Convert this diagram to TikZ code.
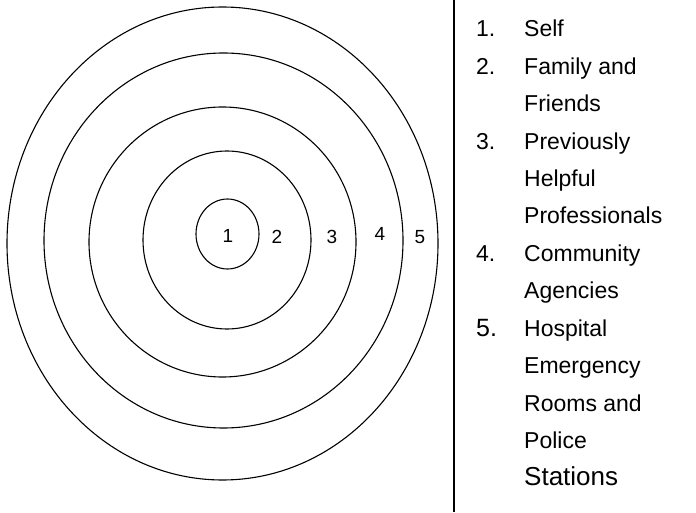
\documentclass[tikz,border=0pt]{standalone}
\usepackage{fontspec}
\setmainfont{Liberation Sans}
\usetikzlibrary{positioning}

\begin{document}
\begin{tikzpicture}[x=1pt,y=1pt,
  ring/.style={draw=black,line width=1.1pt},
  divider/.style={draw=black,line width=1.8pt},
  zone/.style={inner sep=0pt,font=\fontsize{19}{19}\selectfont},
  num/.style={anchor=base west,inner sep=0pt,font=\fontsize{23}{23}\selectfont},
  item/.style={anchor=base west,inner sep=0pt,font=\fontsize{23}{23}\selectfont}
]
\useasboundingbox (0,0) rectangle (696,512);
% target rings
\draw[ring] (222.5,268.5) ellipse [x radius=215.5pt,y radius=236.5pt];
\draw[ring] (223.5,271.5) ellipse [x radius=179.5pt,y radius=187.5pt];
\draw[ring] (222.5,270) ellipse [x radius=133.5pt,y radius=135pt];
\draw[ring] (227,272) ellipse [x radius=84pt,y radius=89pt];
\draw[ring] (227.5,278) ellipse [x radius=31.5pt,y radius=35pt];
\node[zone] (z1) at (228,276) {1};
\node[zone] (z2) at (277,275) {2};
\node[zone] (z3) at (332,275) {3};
\node[zone] (z4) at (380,278) {4};
\node[zone] (z5) at (420,275) {5};
% divider
\coordinate (divtop) at (454,512);
\coordinate (divbot) at (454,0);
\draw[divider] (divtop) -- (divbot);
% legend
\node[num] (n1) at (476,475) {1.};
\node[num] (n2) at (476,437.6) {2.};
\node[num] (n3) at (476,362.8) {3.};
\node[num] (n4) at (476,250.6) {4.};
\node[num,font=\fontsize{25}{25}\selectfont] (n5) at (476,175.8) {5.};
\node[item] (self) at (524,475) {Self};
\node[item] (fam) at (524,437.6) {Family and};
\node[item] (friends) at (524,400.2) {Friends};
\node[item] (prev) at (524,362.8) {Previously};
\node[item] (helpful) at (524,325.4) {Helpful};
\node[item] (prof) at (524,288) {Professionals};
\node[item] (comm) at (524,250.6) {Community};
\node[item] (agen) at (524,213.2) {Agencies};
\node[item] (hosp) at (524,175.8) {Hospital};
\node[item] (emerg) at (524,138.4) {Emergency};
\node[item] (rooms) at (524,101) {Rooms and};
\node[item] (police) at (524,63.6) {Police};
\node[item,font=\fontsize{26}{26}\selectfont] (stations) at (524,26.2) {Stations};
\end{tikzpicture}
\end{document}
